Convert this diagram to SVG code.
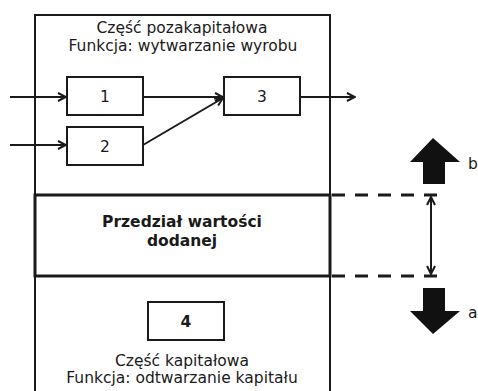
<svg xmlns="http://www.w3.org/2000/svg" width="478" height="391" viewBox="0 0 478 391">
<defs>
<style>
.t{font-family:"DejaVu Sans",Verdana,sans-serif;font-size:15.5px;fill:#1a1a1a;text-anchor:middle}
.b{font-weight:bold}
.box{fill:#fff;stroke:#1a1a1a;stroke-width:2}
.ln{stroke:#1a1a1a;stroke-width:2;fill:none}
.dash{stroke:#1a1a1a;stroke-width:3;fill:none;stroke-dasharray:13 10}
.big{fill:#111}
</style>
<marker id="ah" viewBox="0 0 10 10" refX="9" refY="5" markerWidth="10" markerHeight="10" markerUnits="userSpaceOnUse" orient="auto-start-reverse">
<path d="M1,1 L9,5 L1,9" fill="none" stroke="#1a1a1a" stroke-width="2"/>
</marker>
</defs>
<g id="outer">
<path class="ln" d="M35,391 L35,15 L330,15 L330,391"/>
<text class="t" x="182" y="33">Część pozakapitałowa</text>
<text class="t" x="183" y="51">Funkcja: wytwarzanie wyrobu</text>
</g>
<g id="band">
<rect x="35" y="195" width="295" height="81" fill="#fff" stroke="#1a1a1a" stroke-width="3"/>
<text class="t b" x="182" y="227">Przedział wartości</text>
<text class="t b" x="182" y="246">dodanej</text>
</g>
<g id="n1"><rect class="box" x="67" y="77" width="76" height="38"/><text class="t" x="105" y="102">1</text></g>
<g id="n2"><rect class="box" x="67" y="127" width="76" height="38"/><text class="t" x="105" y="152">2</text></g>
<g id="n3"><rect class="box" x="224" y="77" width="76" height="38"/><text class="t" x="262" y="102">3</text></g>
<g id="n4"><rect class="box" x="148" y="302" width="76" height="38"/><text class="t b" x="186" y="327">4</text></g>
<g id="bottom-label">
<text class="t" x="182" y="366">Część kapitałowa</text>
<text class="t" x="182" y="383">Funkcja: odtwarzanie kapitału</text>
</g>
<g id="connectors">
<line class="ln" x1="10" y1="97" x2="66" y2="97" marker-end="url(#ah)"/>
<line class="ln" x1="10" y1="145" x2="66" y2="145" marker-end="url(#ah)"/>
<line class="ln" x1="143" y1="97" x2="223" y2="97" marker-end="url(#ah)"/>
<line class="ln" x1="143" y1="145" x2="223" y2="98" marker-end="url(#ah)"/>
<line class="ln" x1="300" y1="97" x2="355" y2="97" marker-end="url(#ah)"/>
<line class="dash" x1="332" y1="195" x2="437" y2="195"/>
<line class="dash" x1="332" y1="276" x2="437" y2="276"/>
<line class="ln" x1="431" y1="197" x2="431" y2="274" marker-start="url(#ah)" marker-end="url(#ah)"/>
</g>
<g id="up-b">
<path class="big" d="M433,138 L460,162 L445,162 L445,184 L423,184 L423,162 L410,162 Z"/>
<text class="t" x="468" y="169" style="text-anchor:start">b</text>
</g>
<g id="down-a">
<path class="big" d="M423,288 L445,288 L445,311 L460,311 L433,334 L410,311 L423,311 Z"/>
<text class="t" x="468" y="318" style="text-anchor:start">a</text>
</g>
</svg>
